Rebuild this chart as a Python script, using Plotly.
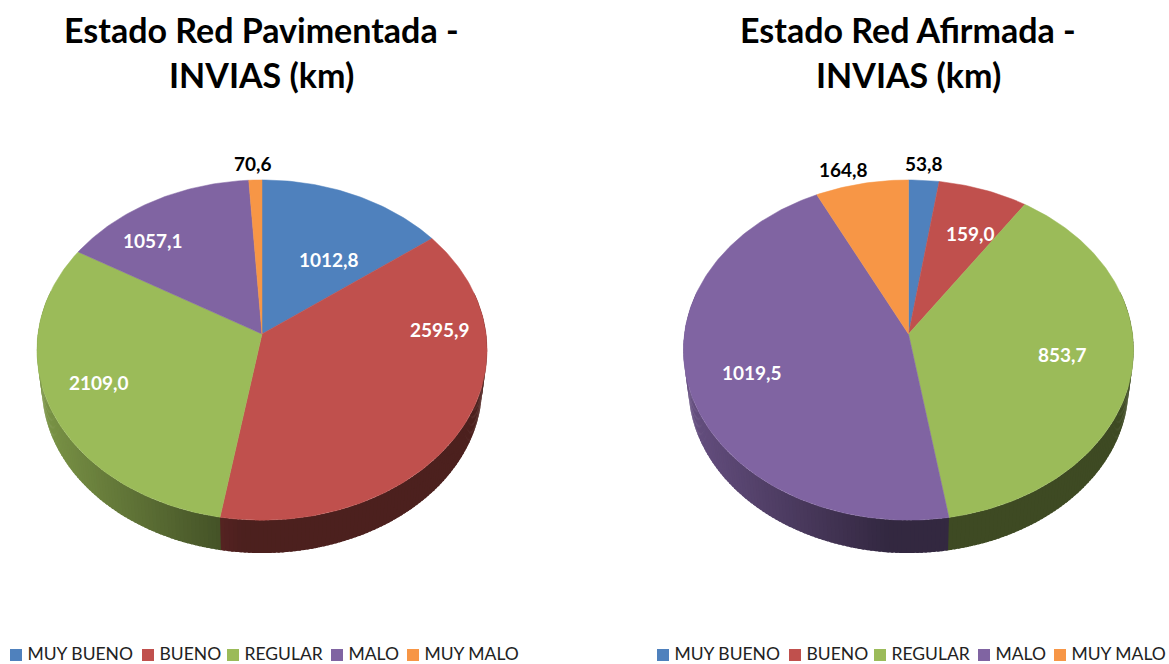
import numpy as np
import plotly.graph_objects as go

categories = ['MUY BUENO', 'BUENO', 'REGULAR', 'MALO', 'MUY MALO']
pavimentada = [1012.8, 2595.9, 2109.0, 1057.1, 70.6]
afirmada = [53.8, 159.0, 853.7, 1019.5, 164.8]
title_pav = ['Estado Red Pavimentada -', 'INVIAS (km)']
title_afi = ['Estado Red Afirmada -', 'INVIAS (km)']

colors = ['#4F81BD', '#C0504D', '#9BBB59', '#8064A2', '#F79646']
label_colors_pav = ['white', 'white', 'white', 'white', 'black']
label_colors_afi = ['black', 'white', 'white', 'white', 'black']
label_pos_pav = [(329, 259), (440, 329), (99, 382), (153, 240), (253, 163)]
label_pos_afi = [(924, 163), (970, 233), (1062, 354), (752, 372), (843, 169)]
legend_x = [10, 142, 227, 331, 407]

# perspective of the tilted disc, measured on the picture
APEX_Y = 334
DEPTH = 10.6
FX = 2375
FY = 1787
LOW_SCALE = 0.978
LOW_SHIFT = 37


def project(theta, r, cx):
    u = r * np.sin(theta)
    v = r * np.cos(theta)
    return cx + FX * u / (DEPTH + v), APEX_Y - FY * v / (DEPTH + v)


def shade(color, k):
    c = [int(color[i:i + 2], 16) for i in (1, 3, 5)]
    return 'rgb({},{},{})'.format(*[int(x * k) for x in c])


def wall_factor(dx):
    # lighter on the far left, flat dark from just left of the centre on
    return float(np.interp(dx, [-225, -20], [0.8, 0.4]))


def add_pie(fig, values, cx):
    values = np.array(values)
    edges = np.concatenate([[0], np.cumsum(values)]) / values.sum() * 2 * np.pi

    # side wall first, the top face covers whatever is behind
    for i in range(len(values)):
        n = max(int(np.degrees(edges[i + 1] - edges[i])), 1)
        ts = np.linspace(edges[i], edges[i + 1], n + 1)
        step = ts[1] - ts[0]
        for a, b in zip(ts[:-1], ts[1:]):
            if np.cos((a + b) / 2) > 0.25:
                continue
            # each quad runs on a little, the next one paints over the seam
            arc = np.array([a, b, b + step * 0.6])
            xs, ys = project(arc, 1, cx)
            low_x = cx + LOW_SCALE * (xs - cx)
            low_y = APEX_Y + LOW_SHIFT + LOW_SCALE * (ys - APEX_Y)
            col = shade(colors[i], wall_factor((xs[0] + xs[1]) / 2 - cx))
            fig.add_trace(go.Scatter(
                x=list(xs) + list(low_x[::-1]) + [xs[0]],
                y=list(ys) + list(low_y[::-1]) + [ys[0]],
                mode='lines', fill='toself', fillcolor=col,
                line=dict(width=0), hoverinfo='skip', showlegend=False))

    for i in range(len(values)):
        n = max(int(np.degrees(edges[i + 1] - edges[i])), 2)
        ts = np.linspace(edges[i], edges[i + 1], n + 1)
        xs, ys = project(ts, 1, cx)
        fig.add_trace(go.Scatter(
            x=[cx] + list(xs) + [cx], y=[APEX_Y] + list(ys) + [APEX_Y],
            mode='lines', fill='toself', fillcolor=colors[i],
            line=dict(color=colors[i], width=0.5),
            name=categories[i], text='{:.1f}'.format(values[i]).replace('.', ','),
            hoverinfo='name+text', showlegend=False))


def add_labels(fig, values, positions, label_colors):
    for v, (x, y), col in zip(values, positions, label_colors):
        fig.add_annotation(x=x, y=y, text='{:.1f}'.format(v).replace('.', ','),
                           showarrow=False,
                           font=dict(family='Lato', size=19, color=col, weight='bold'))


def add_title(fig, lines, cx):
    for line, y in zip(lines, [29, 74]):
        fig.add_annotation(x=cx, y=y, text=line, showarrow=False,
                           font=dict(family='Lato', size=34, color='black', weight='bold'))


def add_legend(fig, offset):
    for i, cat in enumerate(categories):
        fig.add_trace(go.Scatter(
            x=[legend_x[i] + offset + 6], y=[655], mode='markers',
            marker=dict(symbol='square', size=12, color=colors[i]),
            hoverinfo='skip', showlegend=False))
        fig.add_trace(go.Scatter(
            x=[legend_x[i] + offset + 17.5], y=[656], mode='text', text=[cat],
            textposition='middle right', cliponaxis=False,
            textfont=dict(family='Lato', size=17.5, color='#222222'),
            hoverinfo='skip', showlegend=False))


fig = go.Figure()
add_pie(fig, pavimentada, 262)
add_pie(fig, afirmada, 908.5)
add_labels(fig, pavimentada, label_pos_pav, label_colors_pav)
add_labels(fig, afirmada, label_pos_afi, label_colors_afi)
add_title(fig, title_pav, 261)
add_title(fig, title_afi, 908)
add_legend(fig, 0)
add_legend(fig, 647)

fig.update_xaxes(range=[0, 1169], visible=False, fixedrange=True)
fig.update_yaxes(range=[664, 0], visible=False, fixedrange=True)
fig.update_layout(width=1169, height=664, margin=dict(l=0, r=0, t=0, b=0),
                  paper_bgcolor='white', plot_bgcolor='white', showlegend=False)

fig.write_html("out.html", config={'displayModeBar': False},
               post_script="document.body.style.margin='0';")
